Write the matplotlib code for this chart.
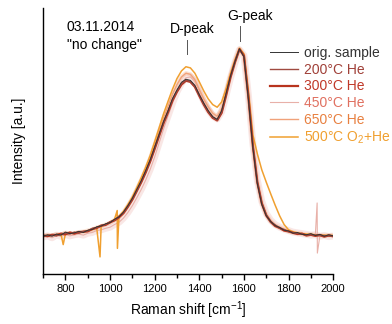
import numpy as np
import matplotlib
matplotlib.use("Agg")
import matplotlib.pyplot as plt

plt.rcParams['font.family'] = ['Liberation Sans', 'DejaVu Sans']
plt.rcParams['mathtext.default'] = 'regular'

# Raman shift grid [cm-1]
shift = np.arange(700, 2001, 20)

# normalised intensities (G-peak ~ 1)
orig = [0.005, 0.012, 0.004, 0.016, 0.010, 0.026, 0.018, 0.022, 0.030, 0.024,
        0.036, 0.040, 0.054, 0.058, 0.070, 0.076, 0.094, 0.106, 0.132, 0.166,
        0.205, 0.252, 0.298, 0.352, 0.408, 0.476, 0.543, 0.612, 0.668, 0.732,
        0.778, 0.818, 0.834, 0.828, 0.802, 0.752, 0.708, 0.668, 0.636, 0.622,
        0.668, 0.758, 0.852, 0.928, 0.995, 0.952, 0.728, 0.472, 0.282, 0.172,
        0.112, 0.082, 0.060, 0.050, 0.036, 0.032, 0.020, 0.024, 0.014, 0.012,
        0.018, 0.008, 0.014, 0.004, 0.012, 0.006]
he_200 = [0.002, 0.008, 0.010, 0.006, 0.014, 0.020, 0.016, 0.026, 0.020, 0.030,
          0.032, 0.046, 0.050, 0.062, 0.066, 0.080, 0.090, 0.110, 0.128, 0.162,
          0.200, 0.246, 0.294, 0.346, 0.404, 0.470, 0.540, 0.606, 0.664, 0.726,
          0.772, 0.810, 0.828, 0.822, 0.796, 0.748, 0.702, 0.662, 0.632, 0.618,
          0.660, 0.752, 0.848, 0.926, 0.992, 0.955, 0.735, 0.478, 0.288, 0.176,
          0.116, 0.078, 0.064, 0.046, 0.040, 0.028, 0.024, 0.018, 0.016, 0.010,
          0.012, 0.010, 0.008, 0.008, 0.006, 0.004]
he_300 = [0.008, 0.004, 0.012, 0.010, 0.018, 0.014, 0.024, 0.018, 0.026, 0.028,
          0.030, 0.042, 0.048, 0.060, 0.064, 0.078, 0.088, 0.104, 0.126, 0.160,
          0.198, 0.244, 0.290, 0.342, 0.400, 0.466, 0.535, 0.602, 0.660, 0.722,
          0.768, 0.806, 0.826, 0.820, 0.794, 0.746, 0.700, 0.660, 0.630, 0.616,
          0.656, 0.748, 0.845, 0.925, 0.993, 0.958, 0.740, 0.482, 0.290, 0.178,
          0.114, 0.080, 0.058, 0.048, 0.034, 0.030, 0.022, 0.016, 0.018, 0.008,
          0.012, 0.006, 0.010, 0.002, 0.008, 0.004]
he_450 = [0.000, 0.006, -0.004, 0.010, 0.004, 0.014, 0.006, 0.012, 0.016, 0.010,
          0.020, 0.024, 0.034, 0.038, 0.046, 0.052, 0.066, 0.078, 0.100, 0.130,
          0.166, 0.208, 0.252, 0.302, 0.358, 0.424, 0.498, 0.572, 0.640, 0.708,
          0.768, 0.812, 0.842, 0.846, 0.822, 0.770, 0.716, 0.672, 0.640, 0.624,
          0.662, 0.750, 0.842, 0.922, 0.990, 0.960, 0.748, 0.494, 0.300, 0.188,
          0.124, 0.088, 0.066, 0.052, 0.042, 0.034, 0.026, 0.022, 0.018, 0.014,
          0.010, 0.012, 0.004, 0.008, 0.002, 0.006]
he_650 = [0.006, 0.010, 0.008, 0.014, 0.012, 0.022, 0.020, 0.018, 0.026, 0.028,
          0.034, 0.038, 0.050, 0.056, 0.066, 0.074, 0.090, 0.104, 0.130, 0.166,
          0.206, 0.254, 0.304, 0.358, 0.418, 0.488, 0.560, 0.630, 0.692, 0.756,
          0.806, 0.846, 0.866, 0.860, 0.832, 0.780, 0.730, 0.688, 0.654, 0.638,
          0.676, 0.764, 0.856, 0.932, 0.996, 0.958, 0.742, 0.486, 0.292, 0.180,
          0.118, 0.084, 0.062, 0.050, 0.040, 0.030, 0.024, 0.020, 0.016, 0.012,
          0.014, 0.010, 0.010, 0.006, 0.010, 0.008]
o2he_500 = [0.006, 0.008, 0.010, 0.012, 0.016, 0.018, 0.020, 0.022, 0.024, 0.026,
            0.032, 0.040, 0.050, 0.058, 0.066, 0.078, 0.094, 0.110, 0.136, 0.172,
            0.212, 0.262, 0.314, 0.370, 0.432, 0.504, 0.578, 0.652, 0.718, 0.782,
            0.838, 0.878, 0.900, 0.894, 0.866, 0.820, 0.772, 0.730, 0.700, 0.686,
            0.714, 0.784, 0.866, 0.938, 0.998, 0.968, 0.770, 0.540, 0.440, 0.355,
            0.290, 0.228, 0.168, 0.112, 0.066, 0.038, 0.028, 0.022, 0.018, 0.016,
            0.014, 0.012, 0.010, 0.010, 0.008, 0.008]

# cosmic-ray spikes
spikes_450_x = [1928, 1929]
spikes_450_y = [0.18, -0.085]
spikes_o2_x = [790, 955, 1032, 1033]
spikes_o2_y = [-0.04, -0.105, 0.14, -0.06]


def with_spikes(x, y, sx, sy):
    xx = np.concatenate([x, sx])
    yy = np.concatenate([y, sy])
    order = np.argsort(xx, kind='stable')
    return xx[order], yy[order]


x450, y450 = with_spikes(shift, he_450, spikes_450_x, spikes_450_y)
xo2, yo2 = with_spikes(shift, o2he_500, spikes_o2_x, spikes_o2_y)

fig = plt.figure(figsize=(3.92, 3.24), dpi=100)
ax = fig.add_axes([0.110, 0.154, 0.740, 0.821])

# broad light band of the noisy 450/650 spectra
ax.plot(shift, he_450, color='#e8a09a', lw=5, alpha=0.25, solid_capstyle='butt')
ax.plot(shift, he_650, color='#f2a070', lw=3, alpha=0.3)

ax.plot(x450, y450, color='#e8b0a8', lw=0.8, label='450°C He')
ax.plot(shift, he_650, color='#f0a27a', lw=1.0, label='650°C He')
ax.plot(xo2, yo2, color='#f0a030', lw=1.1, label='500°C O$_2$+He')
ax.plot(shift, he_300, color='#b8341e', lw=1.6, label='300°C He')
ax.plot(shift, he_200, color='#a04a40', lw=1.0, label='200°C He')
ax.plot(shift, orig, color='#333333', lw=0.7, label='orig. sample')

ax.set_xlim(700, 2000)
ax.set_ylim(-0.196, 1.21)
ax.set_xticks(np.arange(800, 2001, 200))
ax.set_xticks(np.arange(700, 2001, 100), minor=True)
ax.set_yticks([])
ax.tick_params(axis='x', direction='out', length=4, width=1, labelsize=8, pad=3)
ax.tick_params(axis='x', which='minor', direction='out', length=3, width=1)
for s in ['top', 'right']:
    ax.spines[s].set_visible(False)
for s in ['left', 'bottom']:
    ax.spines[s].set_linewidth(1.0)

ax.set_xlabel('Raman shift [cm$^{-1}$]', fontsize=10, labelpad=4)
ax.set_ylabel('Intensity [a.u.]', fontsize=10, labelpad=12)

ax.text(803, 1.11, '03.11.2014', fontsize=10, va='center')
ax.text(806, 1.017, '"no change"', fontsize=10, va='center')

# peak markers
ax.text(1369, 1.10, 'D-peak', fontsize=10, ha='center', va='center')
ax.plot([1345, 1345], [0.965, 1.04], color='#555555', lw=0.7)
ax.text(1628, 1.17, 'G-peak', fontsize=10, ha='center', va='center')
ax.plot([1583, 1583], [1.035, 1.115], color='#555555', lw=0.7)

handles, labels = ax.get_legend_handles_labels()
order = ['orig. sample', '200°C He', '300°C He', '450°C He', '650°C He', '500°C O$_2$+He']
text_colors = ['#333333', '#a04038', '#c03828', '#e07060', '#e88040', '#f0a030']
hs = [handles[labels.index(l)] for l in order]
ax.legend(hs, order, loc='upper left', bbox_to_anchor=(0.783, 0.858),
          frameon=False, fontsize=10, handlelength=2.0, handletextpad=0.4,
          labelspacing=0.2, borderpad=0, borderaxespad=0, labelcolor=text_colors)

fig.savefig('out.png', dpi=100)
